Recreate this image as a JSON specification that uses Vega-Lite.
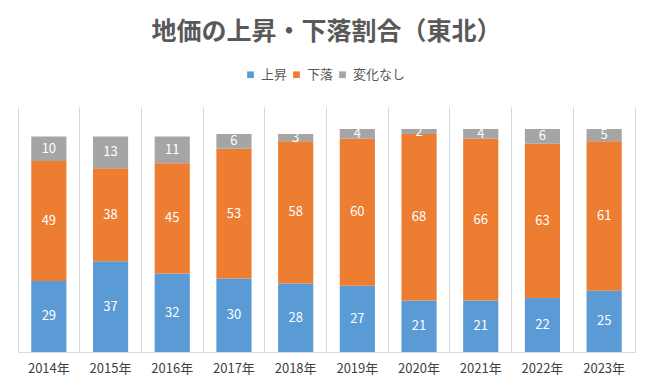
{
  "$schema": "https://vega.github.io/schema/vega-lite/v6.json",
  "autosize": "none",
  "width": 617,
  "height": 245,
  "padding": {"left": 18, "top": 107, "right": 18, "bottom": 40},
  "background": "white",
  "title": {
    "text": "地価の上昇・下落割合（東北）",
    "font": "Noto Sans CJK JP",
    "fontSize": 25,
    "fontWeight": "bold",
    "color": "#595959",
    "anchor": "middle",
    "offset": 23
  },
  "config": {
    "view": {"stroke": null},
    "font": "Noto Sans CJK JP"
  },
  "data": {
    "values": [
      {"year": "2014年", "type": "上昇", "value": 29, "o": 1},
      {"year": "2014年", "type": "下落", "value": 49, "o": 2},
      {"year": "2014年", "type": "変化なし", "value": 10, "o": 3},
      {"year": "2015年", "type": "上昇", "value": 37, "o": 1},
      {"year": "2015年", "type": "下落", "value": 38, "o": 2},
      {"year": "2015年", "type": "変化なし", "value": 13, "o": 3},
      {"year": "2016年", "type": "上昇", "value": 32, "o": 1},
      {"year": "2016年", "type": "下落", "value": 45, "o": 2},
      {"year": "2016年", "type": "変化なし", "value": 11, "o": 3},
      {"year": "2017年", "type": "上昇", "value": 30, "o": 1},
      {"year": "2017年", "type": "下落", "value": 53, "o": 2},
      {"year": "2017年", "type": "変化なし", "value": 6, "o": 3},
      {"year": "2018年", "type": "上昇", "value": 28, "o": 1},
      {"year": "2018年", "type": "下落", "value": 58, "o": 2},
      {"year": "2018年", "type": "変化なし", "value": 3, "o": 3},
      {"year": "2019年", "type": "上昇", "value": 27, "o": 1},
      {"year": "2019年", "type": "下落", "value": 60, "o": 2},
      {"year": "2019年", "type": "変化なし", "value": 4, "o": 3},
      {"year": "2020年", "type": "上昇", "value": 21, "o": 1},
      {"year": "2020年", "type": "下落", "value": 68, "o": 2},
      {"year": "2020年", "type": "変化なし", "value": 2, "o": 3},
      {"year": "2021年", "type": "上昇", "value": 21, "o": 1},
      {"year": "2021年", "type": "下落", "value": 66, "o": 2},
      {"year": "2021年", "type": "変化なし", "value": 4, "o": 3},
      {"year": "2022年", "type": "上昇", "value": 22, "o": 1},
      {"year": "2022年", "type": "下落", "value": 63, "o": 2},
      {"year": "2022年", "type": "変化なし", "value": 6, "o": 3},
      {"year": "2023年", "type": "上昇", "value": 25, "o": 1},
      {"year": "2023年", "type": "下落", "value": 61, "o": 2},
      {"year": "2023年", "type": "変化なし", "value": 5, "o": 3}
    ]
  },
  "resolve": {"axis": {"x": "independent"}},
  "layer": [
    {
      "mark": {"type": "bar", "width": {"band": 0.57}},
      "encoding": {
        "x": {
          "field": "year", "type": "nominal", "sort": null,
          "scale": {"paddingInner": 0, "paddingOuter": 0},
          "axis": {
            "title": null, "labelAngle": 0, "labelFontSize": 13, "labelColor": "#404040",
            "labelPadding": 10, "ticks": false, "domainColor": "#d9d9d9", "domainWidth": 1,
            "grid": true, "gridColor": "#d9d9d9", "bandPosition": 0
          }
        },
        "y": {
          "field": "value", "type": "quantitative", "stack": "zero",
          "scale": {"domain": [0, 100], "nice": false},
          "axis": null
        },
        "color": {
          "field": "type", "type": "nominal",
          "scale": {"domain": ["上昇", "下落", "変化なし"], "range": ["#5B9BD5", "#ED7D31", "#A5A5A5"]},
          "legend": {
            "title": null, "orient": "none", "legendX": 226, "legendY": -39,
            "direction": "horizontal", "symbolType": "square", "padding": 0,
            "symbolSize": 45, "symbolStrokeWidth": 0, "labelFontSize": 13, "labelColor": "#595959",
            "columnPadding": 2, "labelOffset": 4
          }
        },
        "order": {"field": "o", "type": "quantitative"}
      }
    },
    {
      "mark": {"type": "text", "color": "white", "fontSize": 13},
      "encoding": {
        "x": {
          "field": "year", "type": "nominal", "sort": null,
          "axis": {
            "title": null, "labels": false, "ticks": false, "domain": false,
            "grid": true, "gridColor": "#d9d9d9", "bandPosition": 1
          }
        },
        "y": {"field": "value", "type": "quantitative", "stack": "zero", "bandPosition": 0.5},
        "text": {"field": "value", "type": "quantitative"},
        "detail": {"field": "type"},
        "order": {"field": "o", "type": "quantitative"}
      }
    }
  ]
}
